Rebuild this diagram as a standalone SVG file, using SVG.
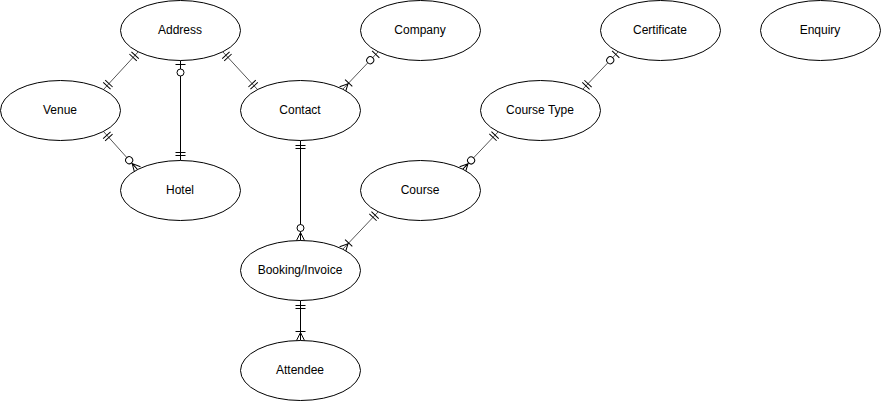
<svg xmlns="http://www.w3.org/2000/svg" width="881" height="401" viewBox="0 0 881 401">
<defs>
<style>
.n ellipse{fill:#fff;stroke:#000;stroke-width:1}
.n text{font-family:"Liberation Sans",Arial,sans-serif;font-size:12px;fill:#000;text-anchor:middle}
.e path{fill:none;stroke:#000;stroke-width:1}
.e path.d{stroke:#555}
.m{fill:none;stroke:#000;stroke-width:1}
.mc{fill:#fff;stroke:#000;stroke-width:1}
</style>
<marker id="mandOne" markerUnits="userSpaceOnUse" orient="auto-start-reverse" refX="0" refY="0" markerWidth="30" markerHeight="30" viewBox="-20 -10 30 20" overflow="visible">
<path class="m" d="M-5,-5V5M-8,-5V5"/>
</marker>
<marker id="zeroOne" markerUnits="userSpaceOnUse" orient="auto-start-reverse" refX="0" refY="0" markerWidth="30" markerHeight="30" viewBox="-20 -10 30 20" overflow="visible">
<path class="m" d="M-4,-5V5"/>
<circle class="mc" cx="-12" cy="0" r="3.5"/>
</marker>
<marker id="zeroMany" markerUnits="userSpaceOnUse" orient="auto-start-reverse" refX="0" refY="0" markerWidth="30" markerHeight="30" viewBox="-20 -10 30 20" overflow="visible">
<path class="m" d="M0,-4L-8,0L0,4M-8,0H0"/>
<circle class="mc" cx="-12.5" cy="0" r="3.5"/>
</marker>
<marker id="oneMany" markerUnits="userSpaceOnUse" orient="auto-start-reverse" refX="0" refY="0" markerWidth="30" markerHeight="30" viewBox="-20 -10 30 20" overflow="visible">
<path class="m" d="M0,-4L-8,0L0,4M-9,-5V5"/>
</marker>
</defs>
<rect width="881" height="401" fill="#fff"/>
<g transform="translate(0.5,0.5)">
<g id="connectors" class="e">
<path class="d" d="M138,51L103,89" marker-start="url(#mandOne)" marker-end="url(#mandOne)"/>
<path class="d" d="M222,51L257,89" marker-start="url(#mandOne)" marker-end="url(#mandOne)"/>
<path d="M180,60L180,160" marker-start="url(#zeroOne)" marker-end="url(#mandOne)"/>
<path class="d" d="M103,131L137,169" marker-start="url(#mandOne)" marker-end="url(#zeroMany)"/>
<path class="d" d="M378,51L342,89" marker-start="url(#zeroOne)" marker-end="url(#oneMany)"/>
<path d="M300,140L300,240" marker-start="url(#mandOne)" marker-end="url(#zeroMany)"/>
<path class="d" d="M378,211L342,249" marker-start="url(#mandOne)" marker-end="url(#oneMany)"/>
<path class="d" d="M618,51L582,89" marker-start="url(#zeroOne)" marker-end="url(#mandOne)"/>
<path class="d" d="M498,131L462,169" marker-start="url(#mandOne)" marker-end="url(#zeroMany)"/>
<path d="M300,300L300,340" marker-start="url(#mandOne)" marker-end="url(#oneMany)"/>
</g>
</g>
<g id="address" class="n"><ellipse cx="180.5" cy="30.5" rx="60" ry="30"/><text x="180" y="34">Address</text></g>
<g id="company" class="n"><ellipse cx="420.5" cy="30.5" rx="60" ry="30"/><text x="420" y="34">Company</text></g>
<g id="certificate" class="n"><ellipse cx="660.5" cy="30.5" rx="60" ry="30"/><text x="660" y="34">Certificate</text></g>
<g id="enquiry" class="n"><ellipse cx="820.5" cy="30.5" rx="60" ry="30"/><text x="820" y="34">Enquiry</text></g>
<g id="venue" class="n"><ellipse cx="60.5" cy="110.5" rx="60" ry="30"/><text x="60" y="114">Venue</text></g>
<g id="contact" class="n"><ellipse cx="300.5" cy="110.5" rx="60" ry="30"/><text x="300" y="114">Contact</text></g>
<g id="course-type" class="n"><ellipse cx="540.5" cy="110.5" rx="60" ry="30"/><text x="540" y="114">Course Type</text></g>
<g id="hotel" class="n"><ellipse cx="180.5" cy="190.5" rx="60" ry="30"/><text x="180" y="194">Hotel</text></g>
<g id="course" class="n"><ellipse cx="420.5" cy="190.5" rx="60" ry="30"/><text x="420" y="194">Course</text></g>
<g id="booking-invoice" class="n"><ellipse cx="300.5" cy="270.5" rx="60" ry="30"/><text x="300" y="274">Booking/Invoice</text></g>
<g id="attendee" class="n"><ellipse cx="300.5" cy="370.5" rx="60" ry="30"/><text x="300" y="374">Attendee</text></g>
</svg>
